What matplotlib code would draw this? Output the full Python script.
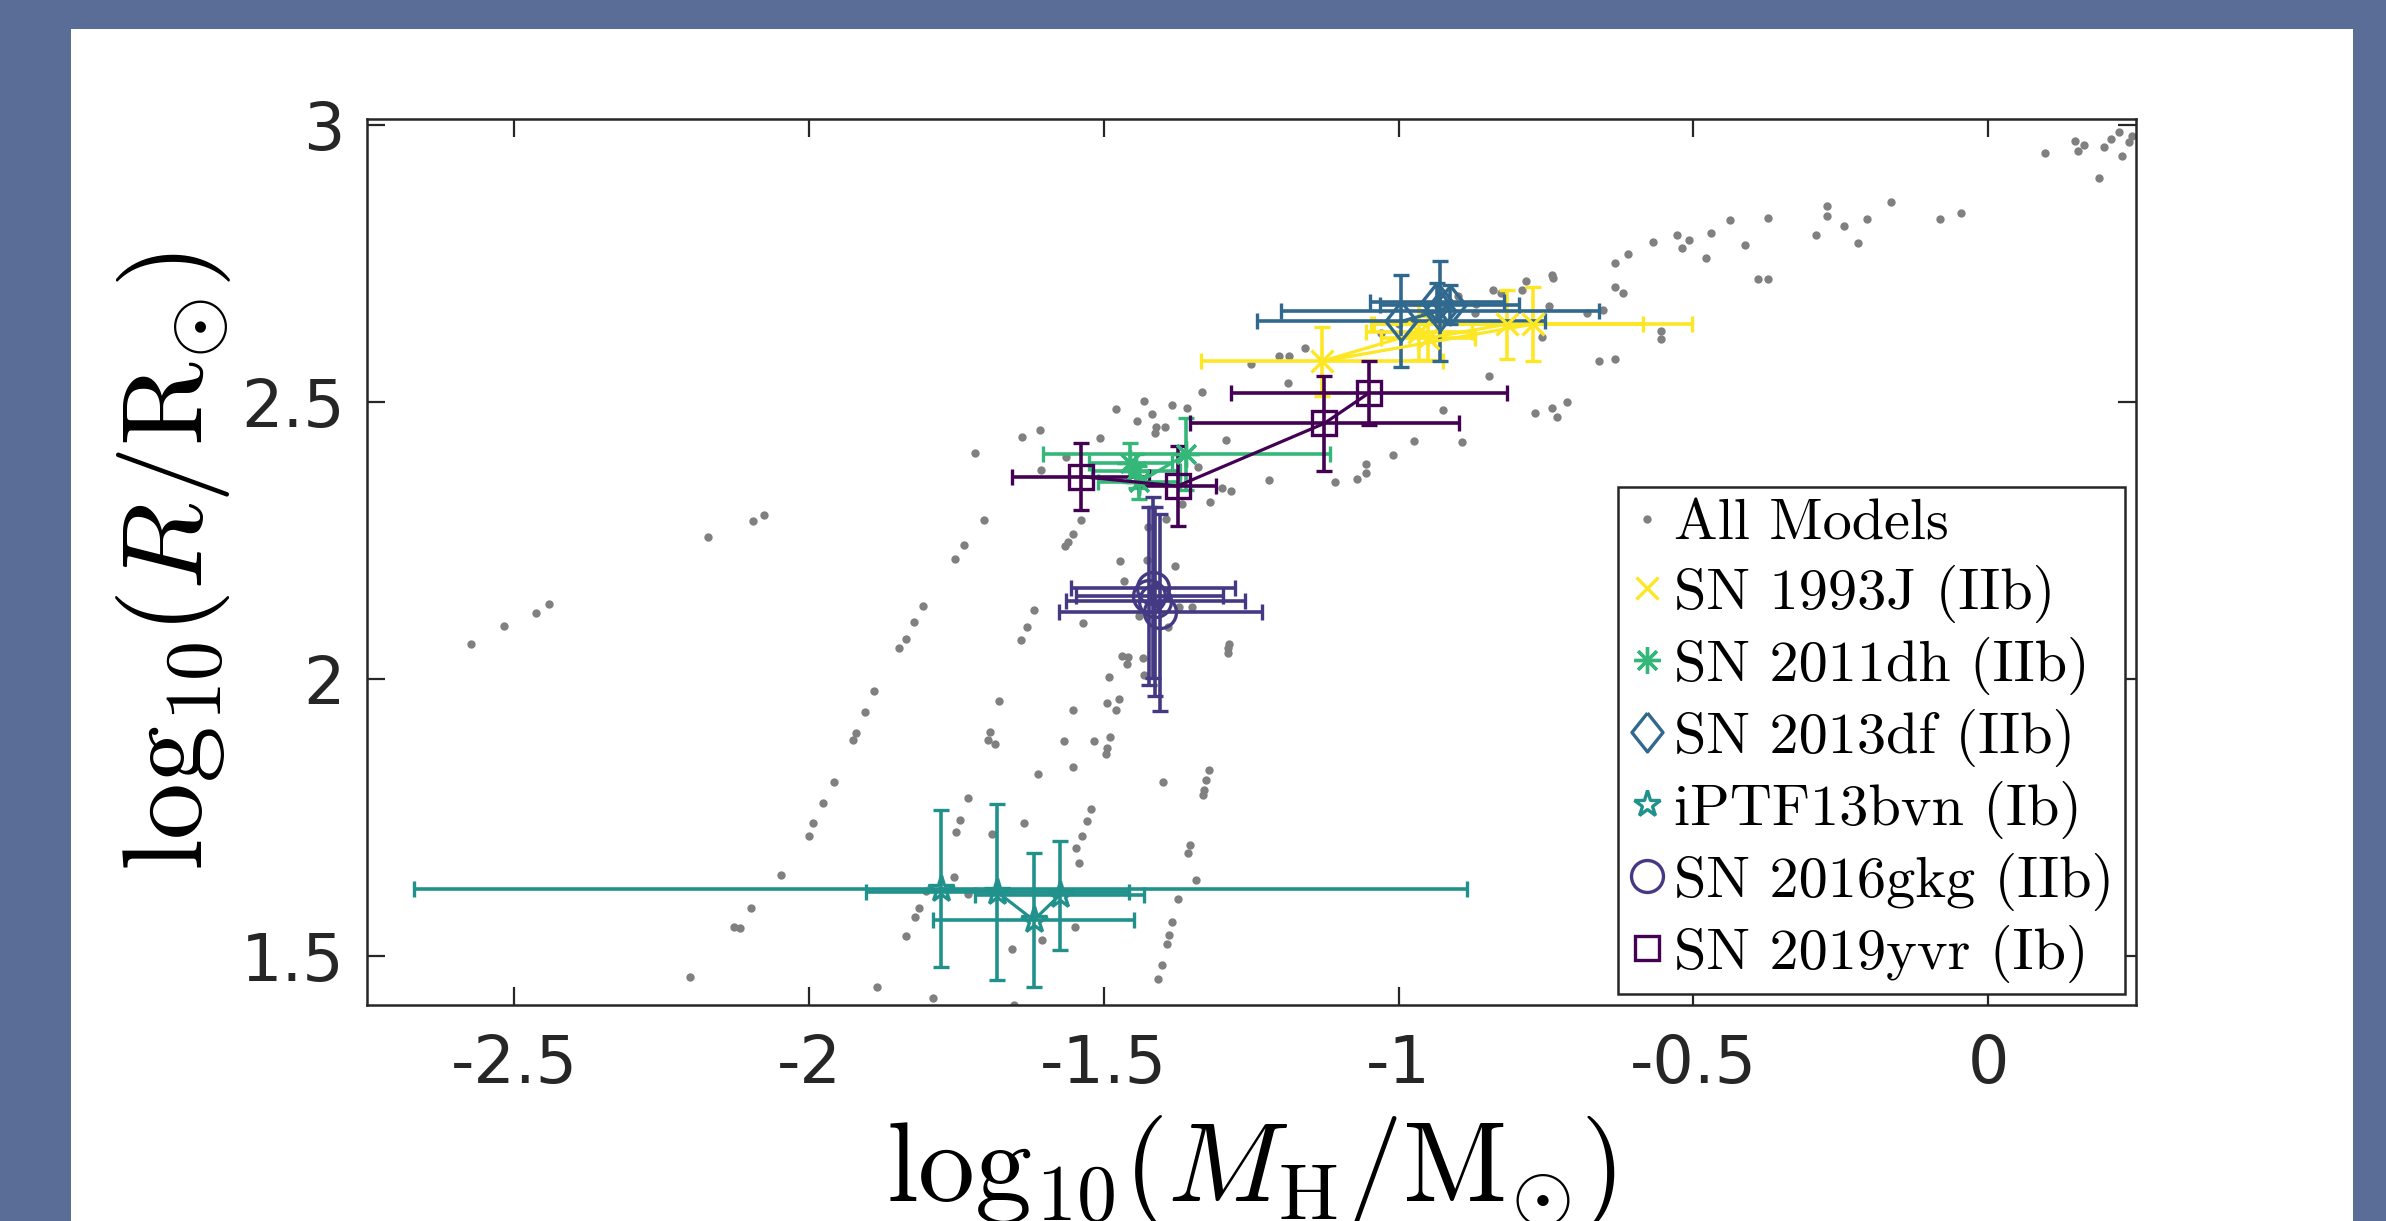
import numpy as np
import matplotlib.pyplot as plt
from matplotlib.lines import Line2D
from matplotlib.patches import Rectangle

plt.rcParams['mathtext.fontset'] = 'cm'
plt.rcParams['axes.unicode_minus'] = False
plt.rcParams['font.family'] = ['DejaVu Sans']

# all stellar models (log10 M_H, log10 R)
model_x = [-2.574, -2.518, -2.464, -2.442, -2.171, -2.096, -2.076, -1.752, -1.807, -1.822,
           -1.836, -1.847, -1.890, -1.905, -1.921, -1.925, -1.958, -1.976, -1.993, -2.001,
           -2.048, -2.098, -2.127, -2.117, -2.202, -1.885, -1.789, -1.813, -1.821, -1.836,
           -1.754, -1.751, -1.744,
           -1.158, -1.203, -1.186, -1.250, -1.188, -1.334, -1.432, -1.385, -1.359, -1.480,
           -1.419, -1.444, -1.412, -1.396, -1.413, -1.608, -1.639, -1.507, -1.292, -1.718,
           -1.565, -1.606, -1.340, -1.219, -1.107, -1.071, -1.056, -1.055, -1.010, -1.300,
           -1.285, -1.320, -1.368, -1.538, -1.704, -1.553, -1.561, -1.566, -1.737, -1.394,
           -1.425, -1.473, -1.379, -1.466, -1.426, -1.372, -1.350, -1.441, -1.391, -1.619,
           -1.631, -1.640, -1.535, -1.288, -1.289, -1.290, -1.469, -1.459, -1.461, -1.434,
           -1.491, -1.432, -1.475, -1.495, -1.480, -1.552, -1.678, -1.693, -1.697, -1.685,
           -1.567, -1.516, -1.490, -1.494, -1.497, -1.553, -1.612, -1.322, -1.326, -1.330,
           -1.331, -1.400, -1.731, -1.521, -1.528, -1.636,
           -1.690, -1.537, -1.547, -1.542, -1.354, -1.358, -1.343, -1.374, -1.385, -1.390,
           -1.393, -1.402, -1.408, -1.731, -1.802, -1.549, -1.605, -1.656, -1.653,
           -0.610, -0.632, -0.632, -0.740, -0.738, -0.620, -0.784, -0.839, -0.827, -0.791,
           -0.744, -0.868, -0.756, -0.660, -0.632, -0.846, -0.715, -0.739, -0.768, -0.731,
           -0.924, -0.893, -0.974, -1.030, -1.000, -0.960, -0.900, -0.870,
           -0.046, -0.082, -0.165, -0.206, -0.245, -0.221, -0.274, -0.274, -0.292, -0.373,
           -0.437, -0.412, -0.391, -0.373, -0.470, -0.528, -0.508, -0.519, -0.479, -0.569,
           -0.681, -0.653, -0.554, -0.554,
           0.096, 0.148, 0.162, 0.153, 0.197, 0.208, 0.222, 0.239, 0.244, 0.228, 0.189]
model_y = [2.063, 2.096, 2.119, 2.135, 2.256, 2.285, 2.296, 2.217, 2.131, 2.103,
           2.073, 2.055, 1.979, 1.941, 1.903, 1.890, 1.814, 1.777, 1.740, 1.717,
           1.646, 1.587, 1.553, 1.551, 1.462, 1.444, 1.425, 1.587, 1.570, 1.537,
           1.642, 1.724, 1.745,
           2.597, 2.582, 2.582, 2.568, 2.534, 2.517, 2.501, 2.494, 2.489, 2.487,
           2.478, 2.466, 2.454, 2.455, 2.443, 2.449, 2.436, 2.434, 2.431, 2.407,
           2.401, 2.377, 2.383, 2.358, 2.356, 2.361, 2.372, 2.387, 2.404, 2.344,
           2.339, 2.320, 2.316, 2.286, 2.287, 2.262, 2.247, 2.239, 2.242, 2.289,
           2.275, 2.212, 2.204, 2.177, 2.215, 2.129, 2.129, 2.114, 2.093, 2.125,
           2.094, 2.070, 2.101, 2.064, 2.055, 2.046, 2.042, 2.039, 2.027, 2.038,
           2.004, 2.007, 1.964, 1.956, 1.944, 1.944, 1.961, 1.905, 1.890, 1.883,
           1.889, 1.889, 1.896, 1.875, 1.864, 1.842, 1.828, 1.836, 1.818, 1.800,
           1.790, 1.815, 1.785, 1.765, 1.744, 1.741,
           1.721, 1.717, 1.695, 1.669, 1.700, 1.686, 1.638, 1.603, 1.561, 1.538,
           1.522, 1.484, 1.458, 1.612, 1.618, 1.553, 1.529, 1.513, 1.412,
           2.767, 2.750, 2.707, 2.728, 2.724, 2.697, 2.717, 2.702, 2.696, 2.701,
           2.673, 2.677, 2.616, 2.573, 2.577, 2.547, 2.500, 2.488, 2.480, 2.473,
           2.486, 2.427, 2.430, 2.624, 2.640, 2.660, 2.690, 2.660,
           2.840, 2.830, 2.860, 2.830, 2.817, 2.786, 2.853, 2.835, 2.800, 2.832,
           2.827, 2.782, 2.722, 2.722, 2.805, 2.800, 2.792, 2.777, 2.759, 2.789,
           2.660, 2.665, 2.628, 2.614,
           2.949, 2.971, 2.963, 2.952, 2.959, 2.974, 2.986, 2.969, 2.979, 2.943, 2.903]

# SN 1993J (IIb)
sn93j_x = [-0.965, -1.130, -0.772, -0.816, -0.950]
sn93j_y = [2.625, 2.573, 2.640, 2.640, 2.615]
sn93j_xerr = [0.090, 0.206, 0.270, 0.230, 0.080]
sn93j_yerr = [0.050, 0.062, 0.067, 0.062, 0.040]

# SN 2011dh (IIb)
sn11dh_x = [-1.455, -1.445, -1.440, -1.360]
sn11dh_y = [2.390, 2.375, 2.355, 2.405]
sn11dh_xerr = [0.070, 0.075, 0.070, 0.243]
sn11dh_yerr = [0.035, 0.030, 0.030, 0.065]

# SN 2013df (IIb)
sn13df_x = [-0.996, -0.930, -0.913, -0.935]
sn13df_y = [2.645, 2.664, 2.675, 2.680]
sn13df_xerr = [0.245, 0.270, 0.118, 0.114]
sn13df_yerr = [0.083, 0.090, 0.035, 0.035]

# iPTF13bvn (Ib)
bvn_x = [-1.777, -1.681, -1.619, -1.575]
bvn_y = [1.622, 1.616, 1.565, 1.610]
bvn_xerr = [0.893, 0.223, 0.171, 0.143]
bvn_yerr = [0.142, 0.159, 0.121, 0.098]

# SN 2016gkg (IIb)
sn16gkg_x = [-1.416, -1.423, -1.413, -1.404]
sn16gkg_y = [2.165, 2.150, 2.140, 2.120]
sn16gkg_xerr = [0.139, 0.125, 0.152, 0.172]
sn16gkg_yerr = [0.163, 0.160, 0.170, 0.177]

# SN 2019yvr (Ib)
sn19yvr_x = [-1.539, -1.375, -1.126, -1.050]
sn19yvr_y = [2.365, 2.348, 2.461, 2.516]
sn19yvr_xerr = [0.116, 0.065, 0.228, 0.234]
sn19yvr_yerr = [0.060, 0.072, 0.085, 0.058]

labels = ['All Models', 'SN 1993J (IIb)', 'SN 2011dh (IIb)', 'SN 2013df (IIb)',
          'iPTF13bvn (Ib)', 'SN 2016gkg (IIb)', 'SN 2019yvr (Ib)']

diamond = [(0, 1), (0.8, 0), (0, -1), (-0.8, 0), (0, 1)]
series = [
    (sn93j_x, sn93j_y, sn93j_xerr, sn93j_yerr, '#fde725', 'x', 16),
    (sn11dh_x, sn11dh_y, sn11dh_xerr, sn11dh_yerr, '#35b779', (8, 2, 0), 19),
    (sn13df_x, sn13df_y, sn13df_xerr, sn13df_yerr, '#31688e', diamond, 28),
    (bvn_x, bvn_y, bvn_xerr, bvn_yerr, '#21918c', '*', 20),
    (sn16gkg_x, sn16gkg_y, sn16gkg_xerr, sn16gkg_yerr, '#443983', 'o', 23),
    (sn19yvr_x, sn19yvr_y, sn19yvr_xerr, sn19yvr_yerr, '#440154', 's', 17),
]

fig = plt.figure(figsize=(23.86, 12.21), dpi=100, facecolor='#5a6d97')
fig.patches.append(Rectangle((71 / 2386, 0), (2353 - 71) / 2386, (1221 - 29) / 1221,
                             transform=fig.transFigure, facecolor='white',
                             edgecolor='none', zorder=-10))
ax = fig.add_axes([367 / 2386, 1 - 1005 / 1221, (2136 - 367) / 2386, (1005 - 119) / 1221])

ax.plot(model_x, model_y, 'o', color='#808080', ms=6, mec='none', zorder=1)

handles = [Line2D([], [], ls='none', marker='o', color='#808080', ms=6, mec='none')]
for x, y, xe, ye, c, m, s in series:
    ax.errorbar(x, y, xerr=xe, yerr=ye, color=c, lw=2.3, marker=m, ms=s, mfc='none',
                mec=c, mew=2.4, elinewidth=2.6, capsize=6, capthick=2.6, zorder=3)
    handles.append(Line2D([], [], ls='none', marker=m, ms=s, mfc='none', mec=c, mew=2.4))

ax.set_xlim(-2.75, 0.251)
ax.set_ylim(1.412, 3.01)
ax.set_xticks([-2.5, -2, -1.5, -1, -0.5, 0])
ax.set_xticklabels(['-2.5', '-2', '-1.5', '-1', '-0.5', '0'])
ax.set_yticks([1.5, 2, 2.5, 3])
ax.set_yticklabels(['1.5', '2', '2.5', '3'])

ax.tick_params(direction='in', length=13, width=1.6, top=True, right=True,
               labelsize=47, colors='#262626')
ax.tick_params(axis='x', pad=20)
ax.tick_params(axis='y', pad=16)
for sp in ax.spines.values():
    sp.set_linewidth(1.8)
    sp.set_color('#262626')

ax.set_xlabel(r'$\mathrm{log}_{10}(M_{\rm H}/{\rm M}_{\odot})$', fontsize=82, labelpad=12)
ax.set_ylabel(r'$\mathrm{log}_{10}(R/{\rm R}_{\odot})$', fontsize=82, labelpad=6)

leg = ax.legend(handles, labels, loc='lower right', bbox_to_anchor=(0.994, 0.012),
                borderaxespad=0, prop={'family': 'cmr10', 'size': 42},
                handlelength=0.6, handletextpad=0.15, labelspacing=0.24,
                borderpad=0.2, fancybox=False, framealpha=1)
leg.get_frame().set_edgecolor('#262626')
leg.get_frame().set_linewidth(1.8)

fig.savefig('out.png', dpi=100, facecolor=fig.get_facecolor())
